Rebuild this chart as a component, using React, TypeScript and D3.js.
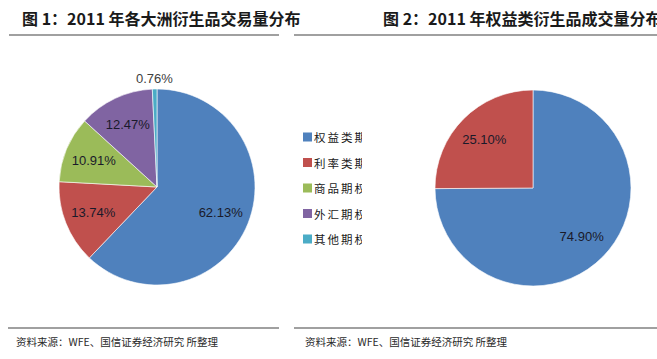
import React from "react";
import * as d3 from "d3";

const categories1 = ["权益类期货期权", "利率类期货期权", "商品期权期货", "外汇期权期货", "其他期权期货"];
const values1 = [62.13, 13.74, 10.91, 12.47, 0.76];
const categories2 = ["权益类", "其他"];
const values2 = [74.9, 25.1];
const colors = ["#4F81BD", "#C0504D", "#9BBB59", "#8064A2", "#4BACC6"];
const title1 = "图 1：2011 年各大洲衍生品交易量分布";
const title2 = "图 2：2011 年权益类衍生品成交量分布";
const source = "资料来源：WFE、国信证券经济研究 所整理";

const W = 657;
const H = 359;
const R = 98;

function Pie({ cx, cy, values, outsideSmall }: { cx: number; cy: number; values: number[]; outsideSmall?: boolean }) {
  const pie = d3.pie<number>().sort(null).value((d) => d);
  const arcs = pie(values);
  const arc = d3.arc<d3.PieArcDatum<number>>().innerRadius(0).outerRadius(R);
  const labelArc = d3.arc<d3.PieArcDatum<number>>().innerRadius(R * 0.7).outerRadius(R * 0.7);
  const outerArc = d3.arc<d3.PieArcDatum<number>>().innerRadius(R + 10).outerRadius(R + 10);
  return (
    <g transform={`translate(${cx},${cy})`}>
      {arcs.map((a, i) => (
        <path key={i} d={arc(a) || ""} fill={colors[i]} stroke="#ffffff" strokeWidth={0.6} />
      ))}
      {arcs.map((a, i) => {
        const small = outsideSmall && a.value < 2;
        const [x, y] = small ? outerArc.centroid(a) : labelArc.centroid(a);
        return (
          <text
            key={"l" + i}
            x={x}
            y={small ? y - 1 : y}
            textAnchor="middle"
            dominantBaseline="central"
            fontFamily="'Liberation Sans', Arial, sans-serif"
            fontSize={13}
            fill={small ? "#404040" : "#1a1a2a"}
          >
            {a.value.toFixed(2)}%
          </text>
        );
      })}
    </g>
  );
}

export default function App() {
  const cjk = "'Noto Sans CJK SC', 'Noto Sans', sans-serif";
  return (
    <svg
      width={W}
      height={H}
      style={{ position: "absolute", left: 0, top: 0, background: "#fff" }}
    >
      <defs>
        <clipPath id="legclip">
          <rect x={290} y={100} width={72} height={170} />
        </clipPath>
      </defs>
      <rect x={0} y={0} width={W} height={H} fill="#ffffff" />
      {/* titles */}
      <text x={22} y={25} fontFamily={cjk} fontWeight="bold" fontSize={16} fill="#1a1a1a">
        {title1}
      </text>
      <text x={383} y={25} fontFamily={cjk} fontWeight="bold" fontSize={16} fill="#1a1a1a">
        {title2}
      </text>
      <line x1={9} x2={279} y1={35} y2={35} stroke="#808080" strokeWidth={1.6} />
      <line x1={294} x2={W} y1={35} y2={35} stroke="#808080" strokeWidth={1.6} />

      <Pie cx={157} cy={187} values={values1} outsideSmall />
      <Pie cx={533} cy={188} values={values2} />

      {/* legend */}
      <g clipPath="url(#legclip)">
        {categories1.map((c, i) => (
          <g key={c} transform={`translate(303,${137 + i * 25.5})`}>
            <rect x={0} y={-4.5} width={9} height={9} fill={colors[i]} />
            <text
              x={11}
              y={0}
              dominantBaseline="central"
              fontFamily={cjk}
              fontSize={11.5}
              letterSpacing={2}
              fill="#1a1a1a"
            >
              {c}
            </text>
          </g>
        ))}
      </g>

      {/* footer */}
      <line x1={8} x2={279} y1={328} y2={328} stroke="#808080" strokeWidth={1.6} />
      <line x1={294} x2={W} y1={328} y2={328} stroke="#808080" strokeWidth={1.6} />
      <text x={16} y={346} fontFamily={cjk} fontSize={10.5} fill="#2a2a2a">
        {source}
      </text>
      <text x={305} y={346} fontFamily={cjk} fontSize={10.5} fill="#2a2a2a">
        {source}
      </text>
      <text style={{ display: "none" }}>{categories2.join(",")}</text>
    </svg>
  );
}
